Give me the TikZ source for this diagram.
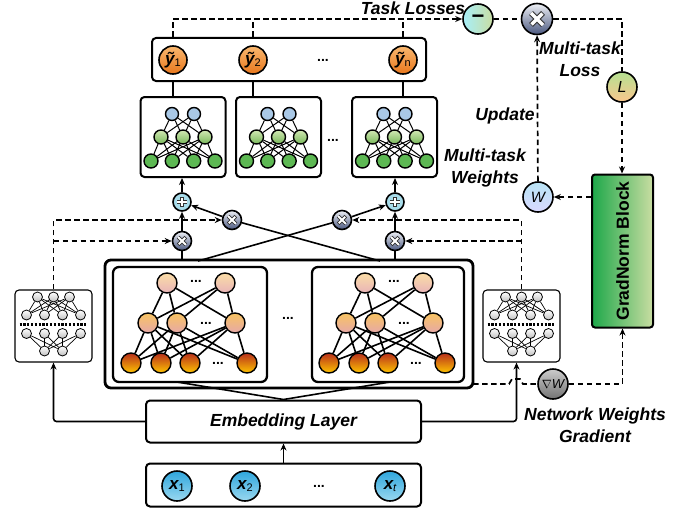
\documentclass[tikz,border=0pt]{standalone}
\usepackage{fontspec}
\setmainfont{Liberation Sans}
\usetikzlibrary{arrows.meta,calc}
\definecolor{yorT}{HTML}{F9B870}
\definecolor{yorB}{HTML}{E8771C}
\definecolor{xbT}{HTML}{2FA6DC}
\definecolor{xbB}{HTML}{9AD8F0}
\definecolor{gnL}{HTML}{1EA84A}
\definecolor{gnR}{HTML}{C9DDA2}
\definecolor{twBlue}{HTML}{A9C8E6}
\definecolor{twGT}{HTML}{D2E8B4}
\definecolor{twGB}{HTML}{78B85A}
\definecolor{twG}{HTML}{5DB853}
\definecolor{eaT}{HTML}{FBDDA6}
\definecolor{eaB}{HTML}{E8B4B8}
\definecolor{ebT}{HTML}{F8C462}
\definecolor{ebB}{HTML}{E6A8A8}
\definecolor{ecT}{HTML}{B8301C}
\definecolor{ecB}{HTML}{FFC400}
\definecolor{crT}{HTML}{EEF0F5}
\definecolor{crB}{HTML}{4A5880}
\definecolor{plB}{HTML}{A8DCEA}
\newcommand\crossicon[4]{% node, arm, outer width, inner width
  \draw[line width=#3,black!80] ($(#1)+(-#2,-#2)$) -- ($(#1)+(#2,#2)$) ($(#1)+(-#2,#2)$) -- ($(#1)+(#2,-#2)$);
  \draw[line width=#4,white,shorten <=0.8pt,shorten >=0.8pt] ($(#1)+(-#2,-#2)$) -- ($(#1)+(#2,#2)$) ($(#1)+(-#2,#2)$) -- ($(#1)+(#2,-#2)$);}
\newcommand\plusicon[4]{%
  \draw[line width=#3,black!80] ($(#1)+(-#2,0)$) -- ($(#1)+(#2,0)$) ($(#1)+(0,-#2)$) -- ($(#1)+(0,#2)$);
  \draw[line width=#4,white,shorten <=0.8pt,shorten >=0.8pt] ($(#1)+(-#2,0)$) -- ($(#1)+(#2,0)$) ($(#1)+(0,-#2)$) -- ($(#1)+(0,#2)$);}
\begin{document}
\begin{tikzpicture}[x=1pt,y=-1pt,
  lab/.style={font=\fontsize{17.5}{21.5}\selectfont\bfseries\itshape, align=center, inner sep=0pt},
  box/.style={draw, line width=2pt, rounded corners=4pt, fill=white},
  con/.style={line width=1.6pt},
  dsh/.style={line width=1.7pt, dash pattern=on 5.5pt off 3.5pt},
  arr/.style={-{Stealth[length=7pt,width=6pt]}},
  ball/.style={circle, draw, line width=1.6pt, inner sep=0pt, minimum size=#1},
  dots/.style={font=\fontsize{14}{14}\selectfont\bfseries, inner sep=0pt},
  thinl/.style={line width=1pt},
  tn/.style={ball=13, line width=1.4pt, fill=twBlue},
  tm/.style={ball=14, line width=1.4pt, top color=twGT, bottom color=twGB},
  tb/.style={ball=14, line width=1.4pt, fill=twG},
  ea/.style={ball=20, line width=1.4pt, top color=eaT, bottom color=eaB},
  eb/.style={ball=20, line width=1.4pt, top color=ebT, bottom color=ebB},
  ec/.style={ball=20, line width=1.4pt, top color=ecT, bottom color=ecB},
  gnode/.style={ball=10, line width=0.8pt, top color=white, bottom color=black!25},
  crossball/.style={ball=#1, top color=crT, bottom color=crB},
]
\useasboundingbox (0,0) rectangle (692,511);

% ---------- output box ----------
\node[box, minimum width=274, minimum height=43] (ybox) at (289,59.5) {};
\node[ball=28, top color=yorT, bottom color=yorB] (y1) at (173,60) {\fontsize{17}{17}\selectfont\bfseries\itshape ỹ\raisebox{-2pt}{\fontsize{11}{11}\selectfont\mdseries\upshape 1}};
\node[ball=28, top color=yorT, bottom color=yorB] (y2) at (253,60) {\fontsize{17}{17}\selectfont\bfseries\itshape ỹ\raisebox{-2pt}{\fontsize{11}{11}\selectfont\mdseries\upshape 2}};
\node[dots] (ydots) at (323,60) {...};
\node[ball=28, top color=yorT, bottom color=yorB] (yn) at (403,60) {\fontsize{17}{17}\selectfont\bfseries\itshape ỹ\raisebox{-2pt}{\fontsize{11}{11}\selectfont\mdseries\upshape n}};

% ---------- towers ----------
\foreach \cx [count=\k] in {183,278.5,394.5}{
  \node[box, minimum width=85, minimum height=80] (tw\k) at (\cx,137) {};
  \foreach \dx [count=\i] in {-11,11} \node[tn] (tw\k-a\i) at (\cx+\dx,114) {};
  \foreach \dx [count=\i] in {-22,0,22} \node[tm] (tw\k-b\i) at (\cx+\dx,137) {};
  \foreach \dx [count=\i] in {-32,-10.7,10.7,32} \node[tb] (tw\k-c\i) at (\cx+\dx,161) {};
  \foreach \i in {1,2} \foreach \j in {1,2,3} \draw[thinl] (tw\k-a\i) -- (tw\k-b\j);
  \foreach \i in {1,2,3} \foreach \j in {1,2,3,4} \draw[thinl] (tw\k-b\i) -- (tw\k-c\j);
}
\node[dots] (twdots) at (333,140) {...};
\draw[con] (y1|-ybox.south) -- (y1|-tw1.north);
\draw[con] (y2|-ybox.south) -- (y2|-tw2.north);
\draw[con] (yn|-ybox.south) -- (yn|-tw3.north);

% ---------- experts ----------
\node[draw, line width=2.8pt, rounded corners=6pt, minimum width=368, minimum height=128] (outer) at (289,324) {};
\node[box, line width=2.3pt, rounded corners=6pt, minimum width=154, minimum height=115] (e1) at (190,324.5) {};
\node[box, line width=2.3pt, rounded corners=6pt, minimum width=152, minimum height=115] (e2) at (388,324.5) {};
\node[dots] (edots) at (288,318) {...};
\foreach \ox [count=\k] in {0,198}{
  \foreach \x [count=\i] in {167,225} \node[ea] (e\k-a\i) at (\x+\ox,283) {};
  \foreach \x [count=\i] in {148,177,235} \node[eb] (e\k-b\i) at (\x+\ox,323) {};
  \foreach \x [count=\i] in {131,161,190,247} \node[ec] (e\k-c\i) at (\x+\ox,363) {};
  \node[dots] (e\k-d1) at (196+\ox,281) {...};
  \node[dots] (e\k-d2) at (206+\ox,323) {...};
  \node[dots] (e\k-d3) at (218+\ox,363) {...};
  \foreach \i in {1,2} \foreach \j in {1,2,3} \draw[con] (e\k-a\i) -- (e\k-b\j);
  \foreach \i in {1,2,3} \foreach \j in {1,2,3,4} \draw[con] (e\k-b\i) -- (e\k-c\j);
}

% ---------- embedding & input ----------
\node[box, minimum width=275, minimum height=42, font=\fontsize{17.5}{20}\selectfont\bfseries\itshape] (emb) at (283.5,421.5) {Embedding Layer};
\node[box, minimum width=275, minimum height=43] (inp) at (283.5,485) {};
\node[ball=30, top color=xbT, bottom color=xbB] (x1) at (177,486) {\fontsize{17}{17}\selectfont\bfseries\itshape x\raisebox{-2pt}{\fontsize{11}{11}\selectfont\mdseries\upshape 1}};
\node[ball=30, top color=xbT, bottom color=xbB] (x2) at (245,486) {\fontsize{17}{17}\selectfont\bfseries\itshape x\raisebox{-2pt}{\fontsize{11}{11}\selectfont\mdseries\upshape 2}};
\node[dots] (xdots) at (319,486) {...};
\node[ball=30, top color=xbT, bottom color=xbB] (xt) at (390,486) {\fontsize{17}{17}\selectfont\bfseries\itshape x\raisebox{-2pt}{\fontsize{11}{11}\selectfont\mdseries\itshape t}};
\draw[con,arr] (inp.north) -- (emb.south);
\coordinate (e1b) at (177,382);
\coordinate (e2b) at (390,382);
\draw[con] (e1b) -- (emb.north) -- (e2b);

% ---------- gates ----------
\foreach \cx [count=\k] in {53.5,521.5}{
  \node[draw, line width=1.1pt, rounded corners=4pt, fill=white, minimum width=77, minimum height=72] (g\k) at (\cx,326) {};
  \foreach \dx [count=\i] in {-16,0,16} \node[gnode] (g\k-a\i) at (\cx+\dx,297) {};
  \foreach \dx [count=\i] in {-27,-9,9,27} \node[gnode] (g\k-b\i) at (\cx+\dx,315) {};
  \foreach \dx [count=\i] in {-27,-9,9,27} \node[gnode] (g\k-c\i) at (\cx+\dx,333.5) {};
  \foreach \dx [count=\i] in {-9,9} \node[gnode] (g\k-d\i) at (\cx+\dx,351) {};
  \foreach \i in {1,2,3} \foreach \j in {1,2,3,4} \draw[line width=0.7pt] (g\k-a\i) -- (g\k-b\j);
  \foreach \i in {1,2,3,4} \foreach \j in {1,2} \draw[line width=0.7pt] (g\k-c\i) -- (g\k-d\j);
  \draw[line width=2.4pt, dash pattern=on 2.2pt off 1.6pt] (\cx-34,324.3) -- (\cx+34,324.3);
}
\draw[con,arr,rounded corners=3pt] (emb.west) -| (g1.south);
\draw[con,arr,rounded corners=3pt] (emb.east) -| ([xshift=-5pt]g2.south);

% ---------- gating operators ----------
\node[ball=18, fill=plB] (p1) at (182,202) {};
\node[ball=18, fill=plB] (p2) at (395,202) {};
\node[crossball=19] (g1a) at (182,241) {};
\node[crossball=19] (g1b) at (232,220) {};
\node[crossball=19] (g2b) at (342,220) {};
\node[crossball=19] (g2a) at (395,241) {};
\plusicon{p1}{5}{3.6pt}{2pt}
\plusicon{p2}{5}{3.6pt}{2pt}
\foreach \n in {g1a,g1b,g2b,g2a} {\crossicon{\n}{3.8}{3.6pt}{2pt}}
\coordinate (c1) at (198,261);
\coordinate (c2) at (380,261);
\draw[con] (g1a.south) -- (g1a|-outer.north);
\draw[con] (g2a.south) -- (g2a|-outer.north);
\draw[con,arr] (g1a) -- (p1);
\draw[con,arr] (g2a) -- (p2);
\draw[con,arr] (p1) -- (p1|-tw1.south);
\draw[con,arr] (p2) -- (p2|-tw3.south);
\draw[con] (c1) -- (g2b);
\draw[con] (c2) -- (g1b);
\draw[con,arr] (g1b) -- (p1);
\draw[con,arr] (g2b) -- (p2);
\draw[dsh,arr] (g1.north) |- (g1b);
\draw[dsh,arr] (g1.north|-g1a) -- (g1a);
\draw[dsh,arr] (g2.north) |- (g2b);
\draw[dsh,arr] (g2.north|-g2a) -- (g2a);

% ---------- GradNorm loop ----------
\node[ball=30, left color=xbB!70!cyan!60, right color=gnR] (minus) at (478,19) {\fontsize{22}{22}\selectfont\bfseries −};
\node[crossball=31] (mul) at (537,19) {};
\crossicon{mul}{6}{5.4pt}{3.2pt}
\node[ball=30, top color=gnR!90!green, bottom color=yorT!80!white] (L) at (622,87) {\fontsize{16}{16}\selectfont\itshape L};
\node[draw, line width=2pt, rounded corners=3pt, left color=gnL, right color=gnR, minimum width=61, minimum height=153] (gn) at (622.5,251) {};
\node[rotate=90, font=\fontsize{17.5}{20}\selectfont\bfseries] (gntext) at (gn) {GradNorm Block};
\node[ball=30, top color=xbB!70!white, bottom color=blue!15!white] (W) at (538,197) {\fontsize{15}{15}\selectfont\itshape W};
\node[ball=30, top color=black!20, bottom color=black!55] (gradW) at (553,384) {\fontsize{13}{13}\selectfont$\nabla$\itshape W};

\draw[dsh,arr] (y1|-ybox.north) |- (minus);
\draw[dsh] (y2|-ybox.north) -- (y2|-minus);
\draw[dsh] (yn|-ybox.north) -- (yn|-minus);
\draw[dsh] (minus) -- (mul);
\draw[dsh] (mul) -| (L);
\draw[dsh,arr] (L) -- (L|-gn.north);
\draw[dsh,arr] (gn.west|-W) -- (W);
\draw[dsh,arr] (W) -- (mul);
\coordinate (o1) at (473,384);
\draw[dsh] (o1) -- ++(36,0) -- ++(3,-5) -- ++(8,0) -- ++(3,5) -- (gradW);
\draw[dsh,arr] (gradW) -| (gn.south);

% ---------- labels ----------
\node[lab] (tlab) at (413,8) {Task Losses};
\node[lab] (mtl) at (580,59) {Multi-task\\Loss};
\node[lab] (upd) at (505,116) {Update};
\node[lab] (mtw) at (485,168) {Multi-task\\Weights};
\node[lab] (nwg) at (595,425) {Network Weights\\Gradient};
\end{tikzpicture}
\end{document}
